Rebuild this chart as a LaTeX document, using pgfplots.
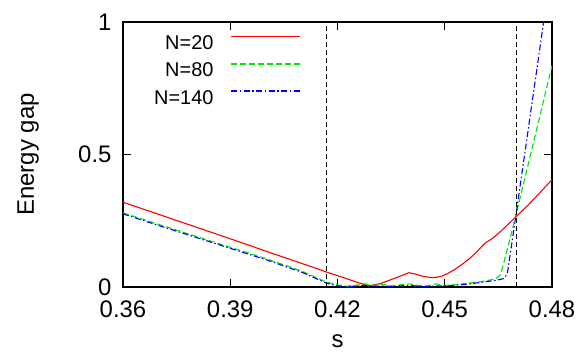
\documentclass[border=0pt]{standalone}
\usepackage{pgfplots}
\pgfplotsset{compat=1.18}
\usepackage{fontspec}
\setmainfont{Liberation Sans}
\definecolor{mygreen}{rgb}{0,0.9,0}
\definecolor{myblue}{rgb}{0,0,1}
\begin{document}
\begin{tikzpicture}
\begin{axis}[
  at={(0,0)}, anchor=south west,
  scale only axis, width=429bp, height=265bp,
  xmin=0.36, xmax=0.48, ymin=0, ymax=1,
  xtick={0.36,0.39,0.42,0.45,0.48},
  xticklabels={0.36,0.39,0.42,0.45,0.48},
  ytick={0,0.5,1},
  yticklabels={0,0.5,1},
  tick align=inside, major tick length=8bp,
  tick style={black, line width=1bp},
  axis line style={line width=1.3bp},
  /pgf/number format/assume math mode=true,
  tick label style={font=\fontsize{24}{28}\selectfont},
  xticklabel style={yshift=-10bp},
  yticklabel style={xshift=-8bp},
  label style={font=\fontsize{24}{28}\selectfont},
  xlabel={s},
  xlabel style={at={([yshift=-60bp]rel axis cs:0.5,0)}, anchor=base},
  ylabel={Energy gap},
  ylabel style={at={([xshift=-89bp]rel axis cs:0,0.5)}, anchor=base},
  legend plot pos=right,
  legend cell align=right,
  legend image code/.code={\draw[#1, line width=1.6bp] (0bp,7bp) -- (69bp,7bp);},
  legend style={at={(rel axis cs:0.415,0.948)}, anchor=north east, draw=none, fill=none,
    inner sep=0pt, outer sep=0pt, column sep=17bp, row sep=11.7bp,
    nodes={inner sep=0pt, font=\fontsize{20}{24}\selectfont}},
]
\addplot[red, line width=1.1bp] coordinates {
(0.36,0.320) (0.37,0.274) (0.38,0.228) (0.39,0.182) (0.40,0.135) (0.41,0.089)
(0.4168,0.057) (0.42,0.043) (0.425,0.020) (0.4288,0.004) (0.432,0.013) (0.436,0.033)
(0.440,0.054) (0.442,0.048) (0.444,0.040) (0.446,0.036) (0.4473,0.036) (0.449,0.040)
(0.451,0.052) (0.453,0.068) (0.455,0.087) (0.457,0.108) (0.459,0.133) (0.4605,0.155)
(0.4615,0.168) (0.463,0.180) (0.465,0.202) (0.467,0.227) (0.470,0.266) (0.473,0.305)
(0.476,0.347) (0.480,0.405)
};
\addlegendentry{N=20}
\addplot[color=mygreen, line width=1.1bp, dash pattern=on 6bp off 3bp] coordinates {
(0.36,0.280) (0.37,0.236) (0.38,0.193) (0.39,0.150) (0.40,0.107) (0.41,0.060)
(0.415,0.030) (0.4168,0.019) (0.42,0.008) (0.4225,0.003) (0.425,0.006) (0.4275,0.012)
(0.43,0.006) (0.4325,0.010) (0.435,0.004) (0.4375,0.008) (0.44,0.012) (0.4425,0.006)
(0.445,0.004) (0.4475,0.012) (0.45,0.006) (0.4525,0.008) (0.455,0.012) (0.4575,0.016)
(0.46,0.020) (0.4625,0.026) (0.4645,0.033) (0.4655,0.045) (0.4665,0.090) (0.4699,0.270)
(0.48,0.835)
};
\addlegendentry{N=80}
\addplot[color=myblue, line width=1.1bp, dash pattern=on 6bp off 2.5bp on 1.5bp off 2.5bp] coordinates {
(0.36,0.276) (0.37,0.232) (0.38,0.189) (0.39,0.146) (0.40,0.103) (0.41,0.056)
(0.415,0.026) (0.4168,0.015) (0.42,0.004) (0.4225,0.002) (0.425,0.003) (0.4275,0.006)
(0.43,0.003) (0.4325,0.004) (0.435,0.002) (0.4375,0.004) (0.44,0.006) (0.4425,0.003)
(0.445,0.002) (0.4475,0.004) (0.45,0.004) (0.4525,0.006) (0.455,0.009) (0.4575,0.013)
(0.46,0.017) (0.4625,0.022) (0.465,0.027) (0.4665,0.032) (0.4675,0.050) (0.4685,0.140)
(0.4699,0.270) (0.4776,0.995) (0.48,1.22)
};
\addlegendentry{N=140}
\addplot[black, line width=0.9bp, dash pattern=on 5bp off 3bp, forget plot] coordinates {(0.4168,0) (0.4168,1)};
\addplot[black, line width=0.9bp, dash pattern=on 5bp off 3bp, forget plot] coordinates {(0.4701,0) (0.4701,1)};
\end{axis}
\pgfresetboundingbox
\path[use as bounding box] (-123bp,-76bp) rectangle (458bp,287bp);
\end{tikzpicture}
\end{document}
